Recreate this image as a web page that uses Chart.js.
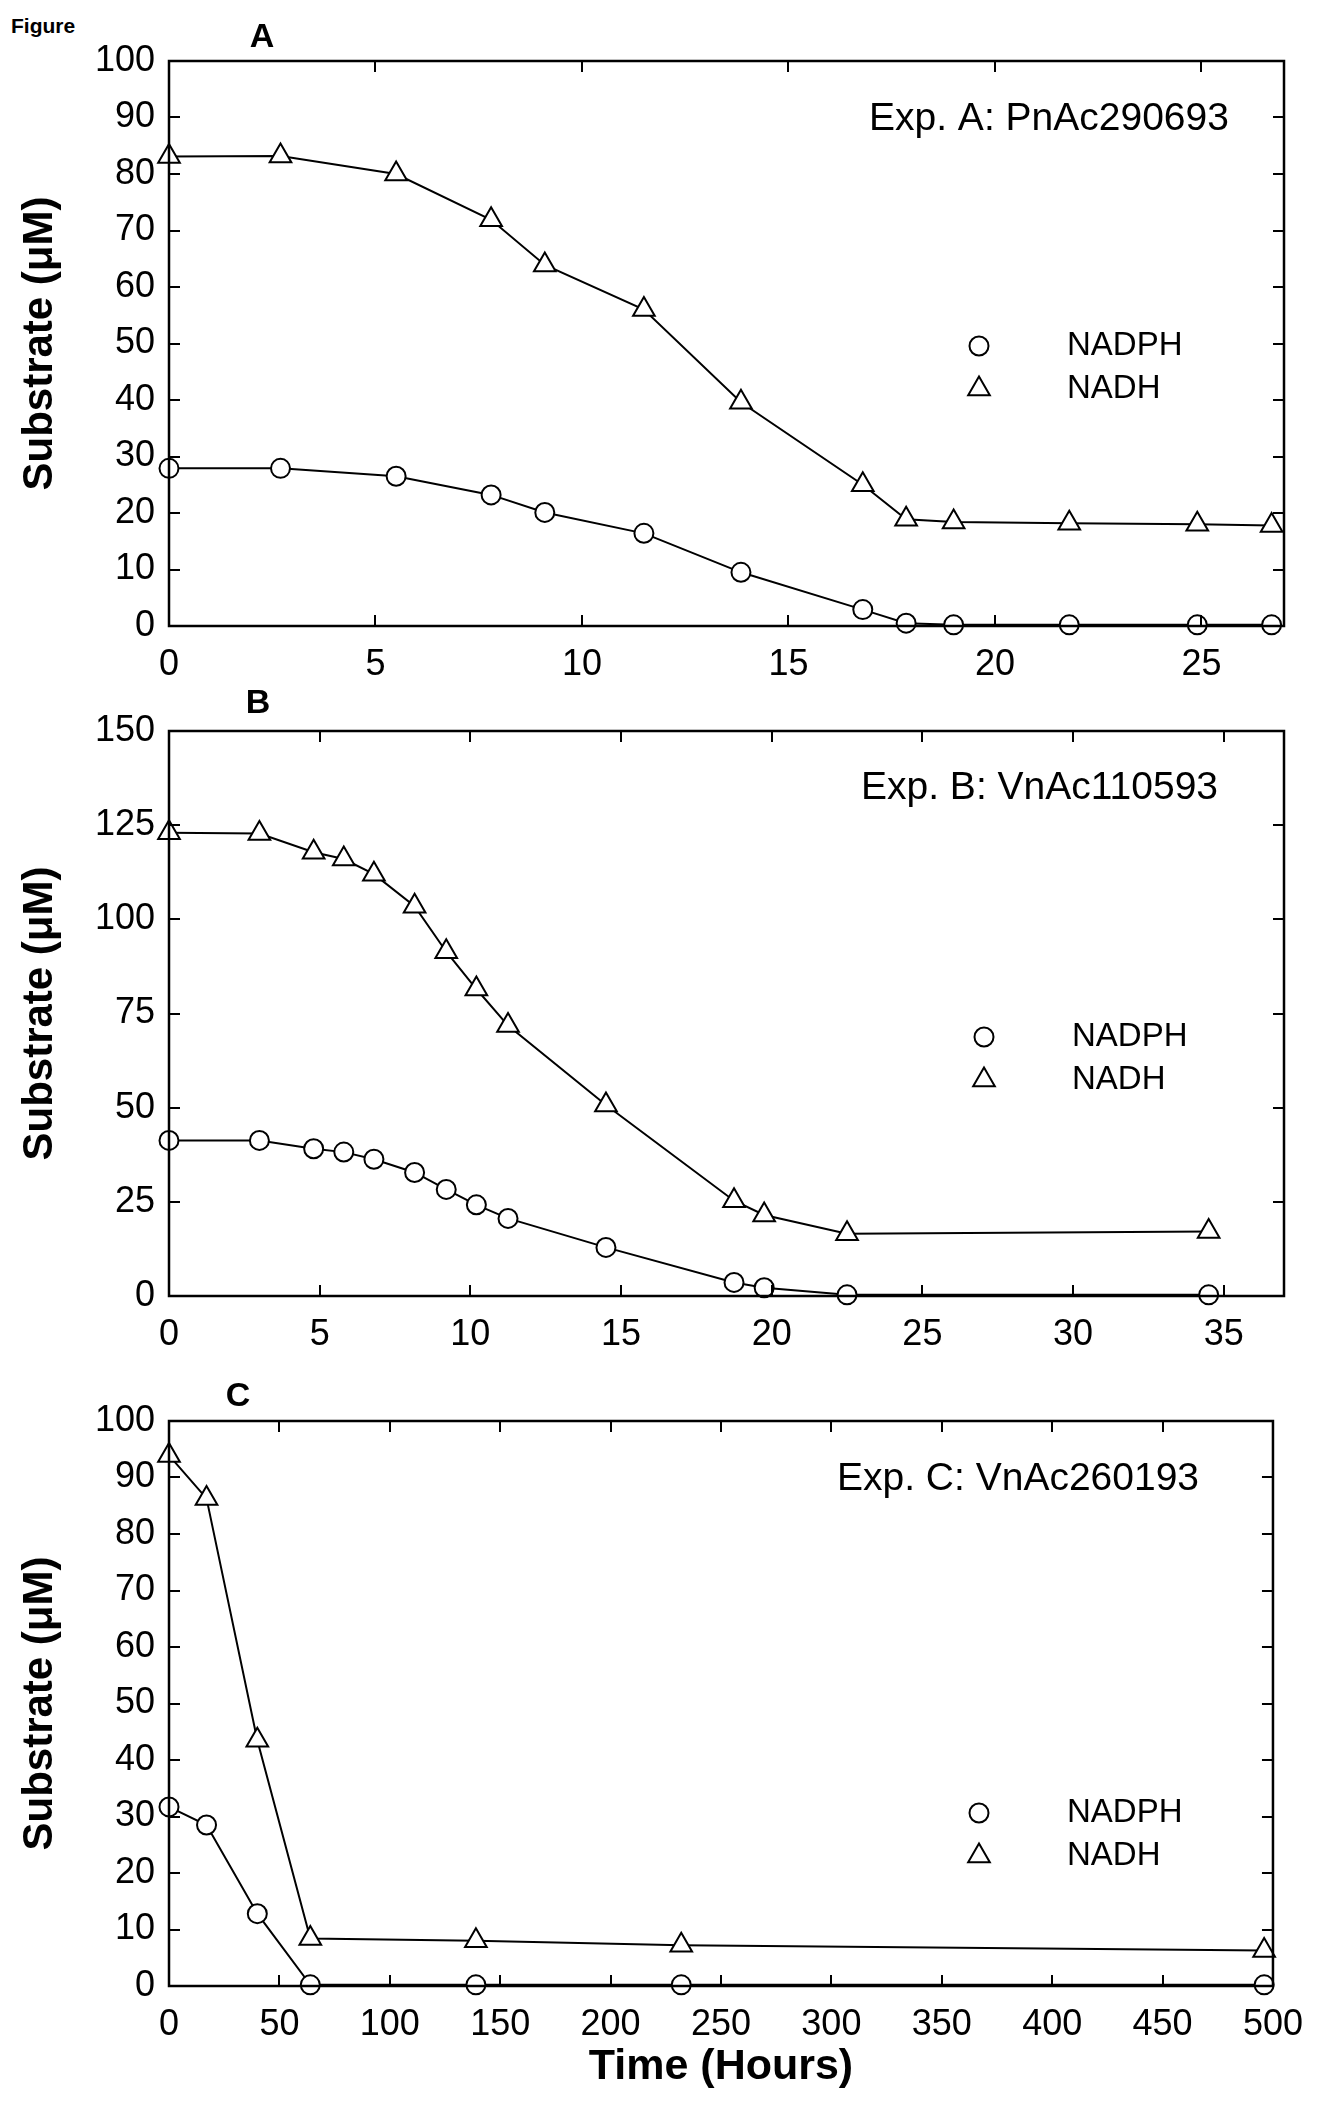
<!DOCTYPE html>
<html>
<head>
<meta charset="utf-8">
<script src="https://cdn.jsdelivr.net/npm/chart.js@4.4.0/dist/chart.umd.min.js"></script>
<style>
  html, body { margin: 0; padding: 0; background: #fff; }
  #pagina { position: relative; width: 1320px; height: 2101px; overflow: hidden; }
  canvas { position: absolute; left: 0; }
  #fig { position: absolute; left: 11px; top: 14px; font: bold 21px 'Liberation Sans', Arial, sans-serif; color: #000; }
</style>
</head>
<body>
<div id="pagina">
  <div id="fig">Figure</div>
  <canvas id="graficoA" width="1320" height="700" style="top:0px"></canvas>
  <canvas id="graficoB" width="1320" height="700" style="top:670px"></canvas>
  <canvas id="graficoC" width="1320" height="741" style="top:1360px"></canvas>
</div>
<script>
// Exp. A
const horasA = [0, 2.7, 5.5, 7.8, 9.1, 11.5, 13.85, 16.8, 17.85, 19.0, 21.8, 24.9, 26.7];
const nadphA = [27.9, 27.9, 26.5, 23.2, 20.1, 16.4, 9.5, 2.9, 0.5, 0.2, 0.2, 0.2, 0.2];
const nadhA = [83.1, 83.2, 80.0, 71.9, 63.9, 56.0, 39.6, 25.0, 18.9, 18.4, 18.2, 18.0, 17.8];

// Exp. B
const horasB = [0, 3.0, 4.8, 5.8, 6.8, 8.15, 9.2, 10.2, 11.25, 14.5, 18.75, 19.75, 22.5, 34.5];
const nadphB = [41.3, 41.3, 39.1, 38.2, 36.3, 32.8, 28.3, 24.2, 20.6, 12.9, 3.6, 2.2, 0.3, 0.3];
const nadhB = [123.0, 122.8, 117.8, 116.0, 112.0, 103.5, 91.4, 81.5, 71.8, 50.7, 25.3, 21.5, 16.5, 17.1];

// Exp. C
const horasC = [0, 17, 40, 64, 139, 232, 496];
const nadphC = [31.7, 28.5, 12.8, 0.2, 0.2, 0.2, 0.2];
const nadhC = [93.9, 86.3, 43.5, 8.4, 8.0, 7.2, 6.3];

// ejes: [max, paso]
const ejeXA = [27, 5], ejeYA = [100, 10];
const ejeXB = [37, 5], ejeYB = [150, 25];
const ejeXC = [500, 50], ejeYC = [100, 10];

const series = ['NADPH', 'NADH'];
const notas = ['Exp. A: PnAc290693', 'Exp. B: VnAc110593', 'Exp. C: VnAc260193'];
const letras = ['A', 'B', 'C'];

const FUENTE = "'Liberation Sans', Arial, Helvetica, sans-serif";
Chart.defaults.font.family = FUENTE;
Chart.defaults.color = '#000';

function puntos(xs, ys) {
  return xs.map((x, i) => ({ x: x, y: ys[i] }));
}

// marco, marcas hacia dentro, letra, nota y leyenda
const decor = {
  id: 'decor',
  afterDraw(chart, args, o) {
    const ctx = chart.ctx;
    const a = chart.chartArea;
    const x = chart.scales.x, y = chart.scales.y;
    ctx.save();
    ctx.strokeStyle = '#000';
    ctx.lineWidth = 2;
    const L = 11;
    x.ticks.forEach(t => {
      if (t.value <= x.min || t.value >= x.max) return;
      const px = Math.round(x.getPixelForValue(t.value));
      ctx.beginPath();
      ctx.moveTo(px, a.bottom); ctx.lineTo(px, a.bottom - L);
      ctx.moveTo(px, a.top); ctx.lineTo(px, a.top + L);
      ctx.stroke();
    });
    y.ticks.forEach(t => {
      if (t.value <= y.min || t.value >= y.max) return;
      const py = Math.round(y.getPixelForValue(t.value));
      ctx.beginPath();
      ctx.moveTo(a.left, py); ctx.lineTo(a.left + L, py);
      ctx.moveTo(a.right, py); ctx.lineTo(a.right - L, py);
      ctx.stroke();
    });
    ctx.lineWidth = 2.5;
    ctx.strokeRect(a.left, a.top, a.right - a.left, a.bottom - a.top);

    ctx.fillStyle = '#000';
    ctx.textBaseline = 'middle';
    ctx.textAlign = 'center';
    ctx.font = 'bold 34px ' + FUENTE;
    ctx.fillText(o.letra, o.letraX, a.top + o.letraDY);

    ctx.textAlign = 'left';
    ctx.font = '39px ' + FUENTE;
    ctx.fillText(o.nota, a.left + o.notaDX, a.top + o.notaDY);

    // leyenda
    chart.data.datasets.forEach((ds, i) => {
      const mx = a.left + o.leyDX;
      const my = a.top + o.leyDY + i * 43;
      ctx.fillStyle = '#fff';
      ctx.strokeStyle = '#000';
      ctx.lineWidth = ds.pointBorderWidth;
      Chart.helpers.drawPoint(ctx, {
        pointStyle: ds.pointStyle, radius: ds.pointRadius,
        borderWidth: ds.pointBorderWidth, rotation: 0
      }, mx, my);
      ctx.fillStyle = '#000';
      ctx.font = '33px ' + FUENTE;
      ctx.fillText(ds.label, mx + 88, my);
    });
    ctx.restore();
  }
};

function grafico(id, horas, nadph, nadh, ejeX, ejeY, alturaX, tituloX, d) {
  const comun = {
    borderColor: '#000', borderWidth: 2, tension: 0, fill: false,
    pointBorderColor: '#000', pointBackgroundColor: '#fff', pointBorderWidth: 2,
    clip: false
  };
  return new Chart(document.getElementById(id).getContext('2d'), {
    type: 'line',
    data: {
      datasets: [
        Object.assign({ label: series[0], data: puntos(horas, nadph), pointStyle: 'circle', pointRadius: 9.5 }, comun),
        Object.assign({ label: series[1], data: puntos(horas, nadh), pointStyle: 'triangle', pointRadius: 12.5 }, comun)
      ]
    },
    options: {
      responsive: false,
      animation: false,
      events: [],
      layout: { padding: { top: 61, right: 36, left: 0, bottom: 0 } },
      plugins: {
        legend: { display: false },
        tooltip: { enabled: false },
        decor: d
      },
      scales: {
        x: {
          type: 'linear', min: 0, max: ejeX[0],
          ticks: { stepSize: ejeX[1], includeBounds: false, padding: 17, maxRotation: 0, font: { size: 36 } },
          grid: { display: false, drawTicks: false },
          border: { display: false },
          title: { display: !!tituloX, text: tituloX || '', font: { size: 43, weight: 'bold' }, padding: { top: 0, bottom: 8 } },
          afterFit(s) { s.height = alturaX; }
        },
        y: {
          type: 'linear', min: 0, max: ejeY[0],
          ticks: { stepSize: ejeY[1], includeBounds: false, padding: 14, font: { size: 36 } },
          grid: { display: false, drawTicks: false },
          border: { display: false },
          title: { display: true, text: 'Substrate (\u03bcM)', font: { size: 42, weight: 'bold' }, padding: { top: 15, bottom: 0 } },
          afterFit(s) { s.width = 169; }
        }
      }
    },
    plugins: [decor]
  });
}

grafico('graficoA', horasA, nadphA, nadhA, ejeXA, ejeYA, 74, null,
  { letra: letras[0], letraX: 262, letraDY: -23, nota: notas[0], notaDX: 700, notaDY: 58, leyDX: 810, leyDY: 285 });
grafico('graficoB', horasB, nadphB, nadhB, ejeXB, ejeYB, 74, null,
  { letra: letras[1], letraX: 258, letraDY: -27, nota: notas[1], notaDX: 692, notaDY: 57, leyDX: 815, leyDY: 306 });
grafico('graficoC', horasC, nadphC, nadhC, ejeXC, ejeYC, 115, 'Time (Hours)',
  { letra: letras[2], letraX: 238, letraDY: -24, nota: notas[2], notaDX: 668, notaDY: 58, leyDX: 810, leyDY: 392 });
</script>
</body>
</html>
